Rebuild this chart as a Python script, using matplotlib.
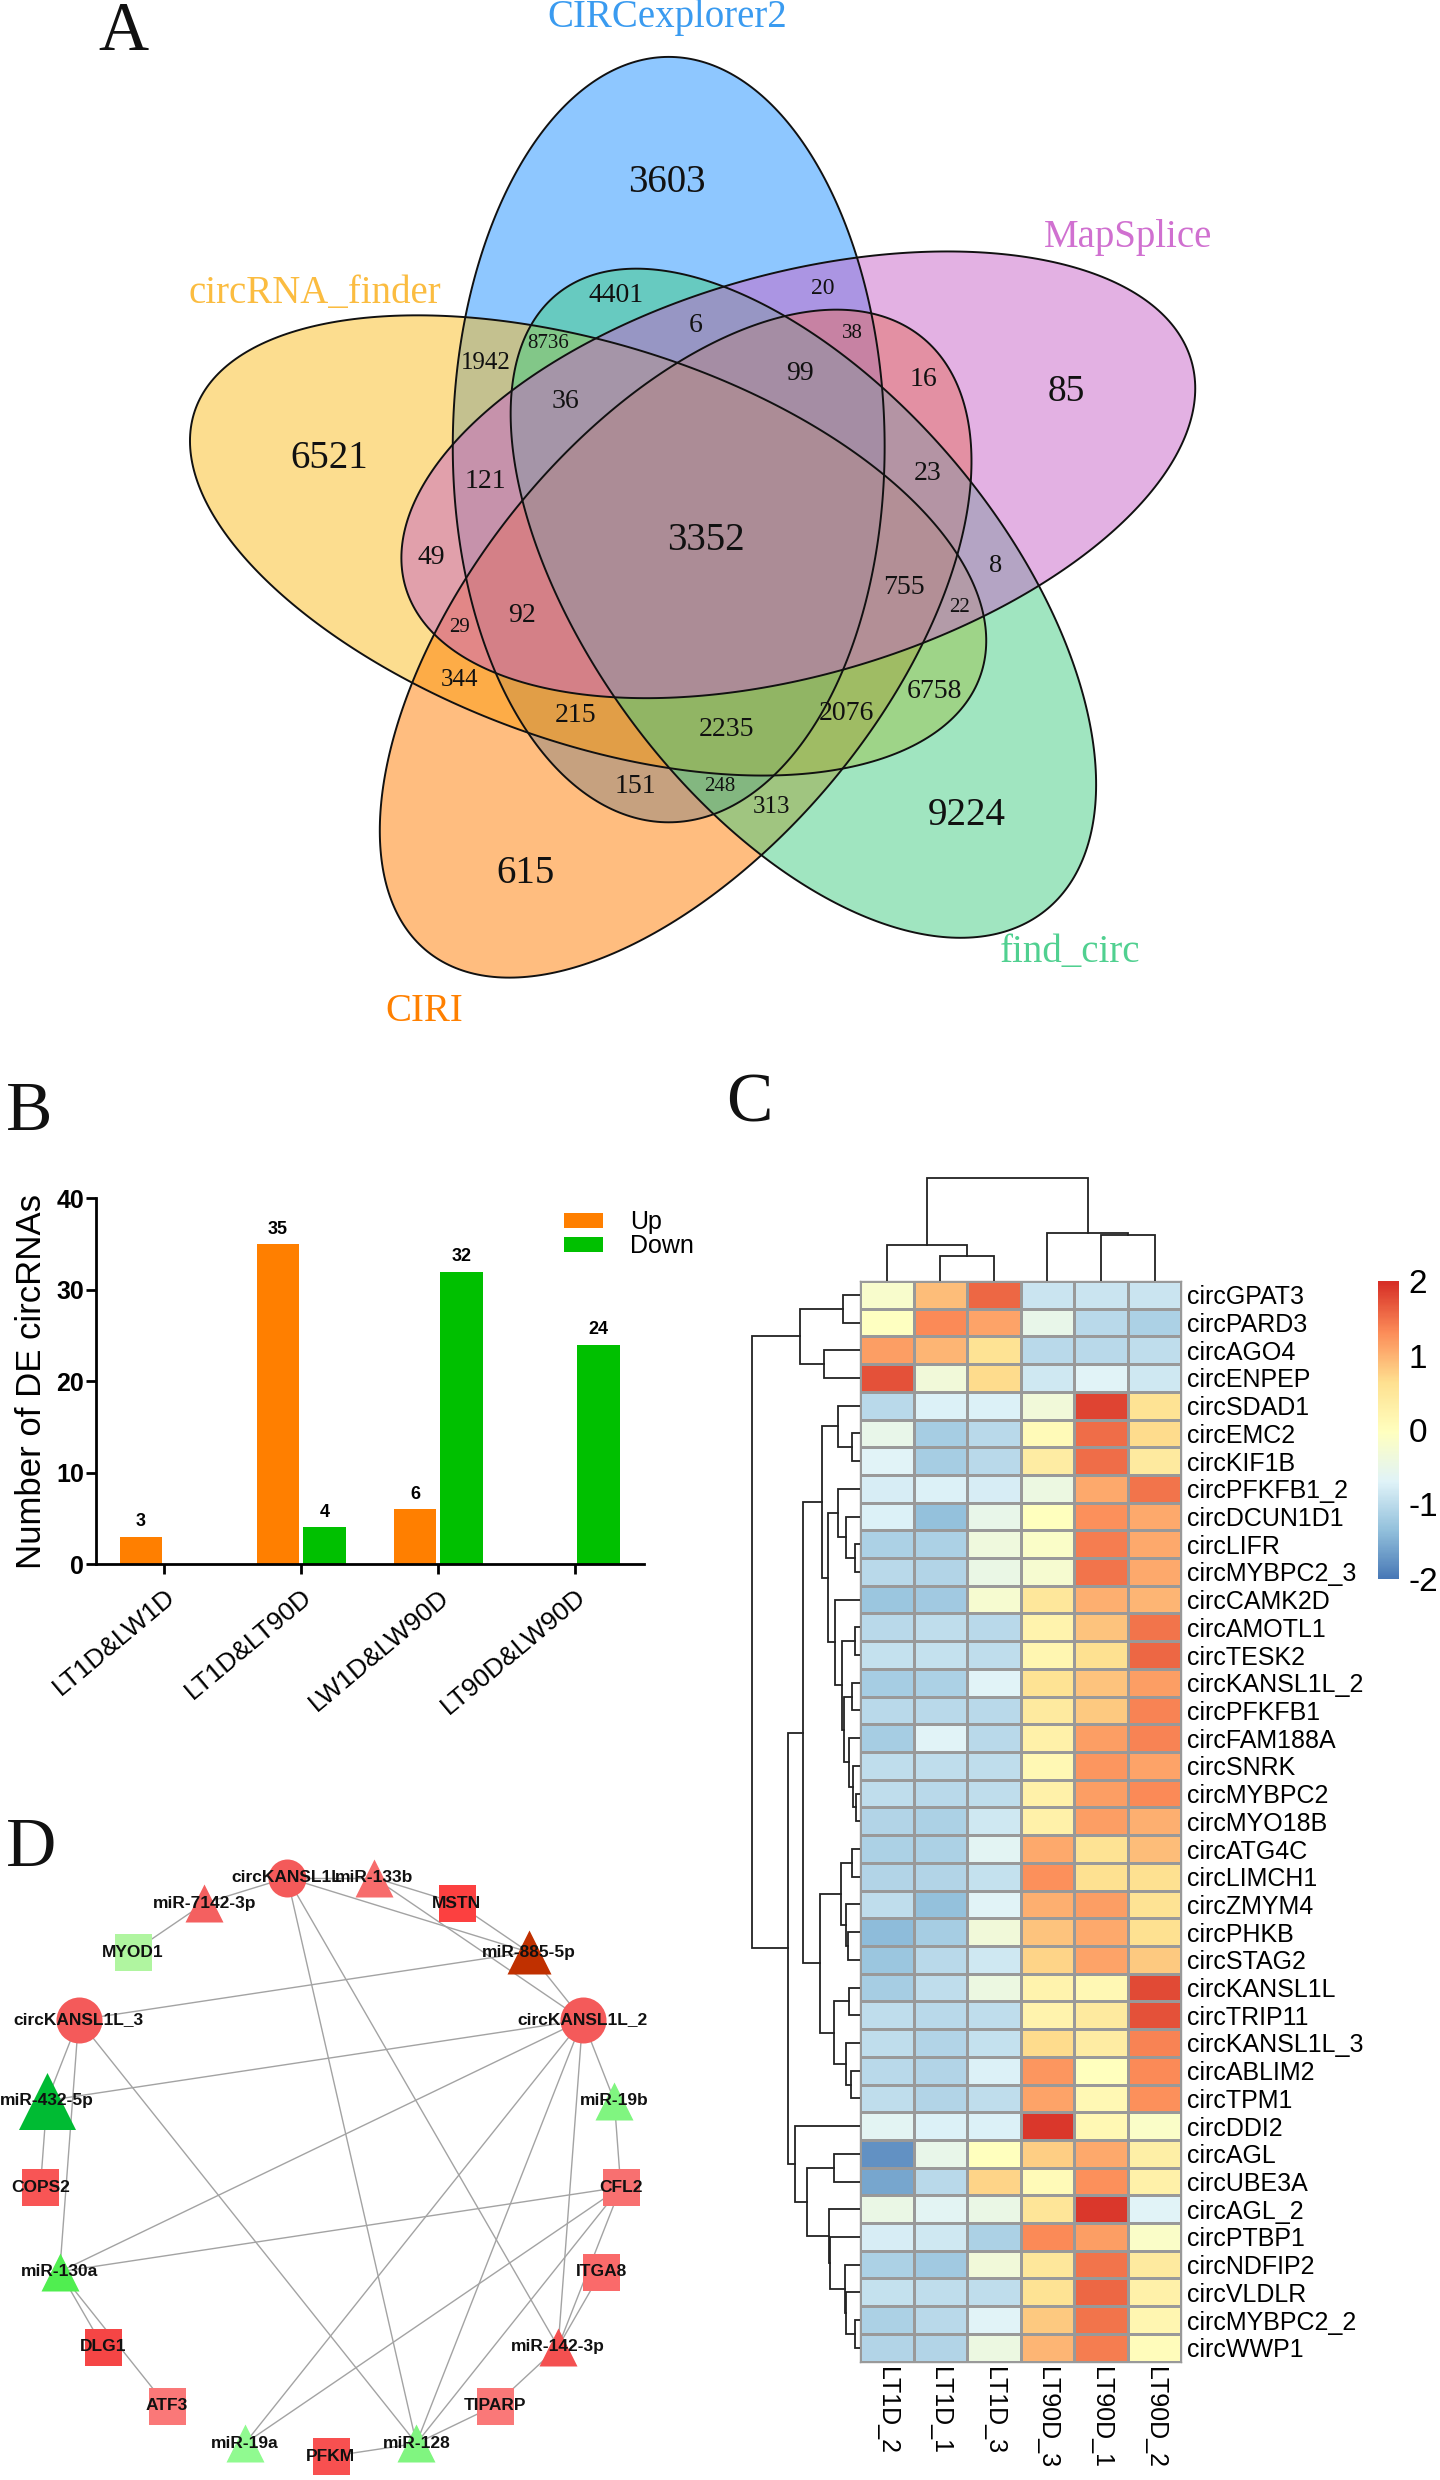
import numpy as np
import matplotlib
matplotlib.use("Agg")
import matplotlib.pyplot as plt
from matplotlib.colors import LinearSegmentedColormap
from matplotlib.patches import Polygon

plt.rcParams['font.family'] = ['Liberation Sans', 'DejaVu Sans']
plt.rcParams['axes.unicode_minus'] = False
SERIF = ['Liberation Serif', 'DejaVu Serif']

# ---------------- data ----------------
venn_counts = ['3603', '6521', '85', '3352', '9224', '615', '4401', '20', '6', '99', '36', '38', '16', '23',
               '1942', '8736', '121', '49', '92', '29', '344', '215', '755', '8', '22', '6758', '2076', '2235',
               '151', '248', '313']
venn_sets = ['CIRCexplorer2', 'circRNA_finder', 'CIRI', 'find_circ', 'MapSplice']

bar_groups = ['LT1D&LW1D', 'LT1D&LT90D', 'LW1D&LW90D', 'LT90D&LW90D']
bar_up = [3, 35, 6, 0]
bar_down = [0, 4, 32, 24]

heat_cols = ['LT1D_2', 'LT1D_1', 'LT1D_3', 'LT90D_3', 'LT90D_1', 'LT90D_2']
heat_rows = ['circGPAT3', 'circPARD3', 'circAGO4', 'circENPEP', 'circSDAD1', 'circEMC2', 'circKIF1B',
             'circPFKFB1_2', 'circDCUN1D1', 'circLIFR', 'circMYBPC2_3', 'circCAMK2D', 'circAMOTL1', 'circTESK2',
             'circKANSL1L_2', 'circPFKFB1', 'circFAM188A', 'circSNRK', 'circMYBPC2', 'circMYO18B', 'circATG4C',
             'circLIMCH1', 'circZMYM4', 'circPHKB', 'circSTAG2', 'circKANSL1L', 'circTRIP11', 'circKANSL1L_3',
             'circABLIM2', 'circTPM1', 'circDDI2', 'circAGL', 'circUBE3A', 'circAGL_2', 'circPTBP1', 'circNDFIP2',
             'circVLDLR', 'circMYBPC2_2', 'circWWP1']
heat_values = [
    [-0.15, 0.95, 1.6, -0.85, -0.85, -0.85],
    [-0.02, 1.35, 1.15, -0.5, -1.0, -1.1],
    [1.2, 1.0, 0.6, -1.0, -1.0, -0.95],
    [1.75, -0.3, 0.7, -0.8, -0.65, -0.8],
    [-1.0, -0.7, -0.7, -0.3, 1.85, 0.6],
    [-0.5, -1.15, -1.0, 0.1, 1.55, 0.7],
    [-0.65, -1.15, -1.0, 0.4, 1.55, 0.45],
    [-0.75, -0.7, -0.75, -0.4, 1.1, 1.5],
    [-0.7, -1.3, -0.5, 0.0, 1.3, 1.1],
    [-1.1, -1.1, -0.35, -0.1, 1.45, 1.1],
    [-1.0, -1.05, -0.45, -0.2, 1.5, 1.1],
    [-1.25, -1.2, -0.2, 0.5, 1.05, 1.0],
    [-1.0, -0.95, -1.0, 0.25, 0.9, 1.5],
    [-0.9, -0.9, -0.95, 0.2, 0.65, 1.6],
    [-1.15, -1.1, -0.65, 0.6, 0.9, 1.2],
    [-1.0, -1.0, -1.0, 0.45, 0.85, 1.4],
    [-1.15, -0.65, -1.0, 0.3, 1.2, 1.4],
    [-0.95, -0.95, -0.95, 0.15, 1.25, 1.15],
    [-0.95, -1.0, -0.95, 0.3, 1.2, 1.35],
    [-1.05, -1.1, -0.8, 0.3, 1.2, 1.05],
    [-1.1, -1.1, -0.6, 1.1, 0.6, 0.95],
    [-1.05, -1.05, -0.9, 1.3, 0.65, 0.65],
    [-0.95, -1.3, -0.65, 1.05, 1.2, 0.6],
    [-1.35, -1.15, -0.3, 0.9, 1.1, 0.65],
    [-1.25, -1.0, -0.8, 0.75, 1.15, 0.85],
    [-1.15, -0.95, -0.4, 0.25, 0.15, 1.8],
    [-0.95, -1.0, -0.95, 0.25, 0.45, 1.75],
    [-0.95, -1.05, -0.9, 0.7, 0.4, 1.4],
    [-1.0, -1.05, -0.7, 1.25, 0.0, 1.35],
    [-0.95, -1.05, -0.95, 1.15, 0.15, 1.3],
    [-0.6, -0.7, -0.7, 1.95, 0.15, -0.1],
    [-1.75, -0.5, 0.0, 0.8, 1.1, 0.35],
    [-1.55, -1.0, 0.75, 0.1, 1.3, 0.3],
    [-0.45, -0.6, -0.45, 0.55, 1.95, -0.65],
    [-0.75, -0.8, -1.1, 1.35, 1.2, -0.1],
    [-1.1, -1.2, -0.3, 0.5, 1.5, 0.45],
    [-0.9, -0.95, -0.95, 0.6, 1.6, 0.3],
    [-1.1, -1.0, -0.65, 0.85, 1.5, 0.2],
    [-1.05, -1.05, -0.4, 1.0, 1.45, 0.05],
]
# dendrograms: (merge height, left, right); ints are leaf positions
row_tree = (108,
            (60, (17, 0, 1), (36, 2, 3)),
            (72.5,
             (57.4,
              (38, (21.6, 4, (7.8, 5, 6)),
               (32, (21.6, 7, (13.8, 8, (4.6, 9, 10))),
                (25.3, 11, (18.4, (4.6, 12, 13),
                            (16, (7.8, 14, 15), (11.5, 16, (6.9, 17, (3.7, 18, 19)))))))),
              (40.4, (19.3, (7.8, 20, 21), (13.8, 22, (12.4, 23, 24))),
               (26.2, (11.5, 25, 26), (13.8, 27, (9.2, 28, 29))))),
             (65, 30, (52.8, (26.2, 31, 32),
                       (30.8, 33, (29.8, 34, (14.7, 35, (13.8, 36, (4.6, 37, 38)))))))))
col_tree = (103, (36, 0, (24.8, 1, 2)), (47.6, 3, (45.9, 4, 5)))

net_nodes = ['PFKM', 'miR-128', 'TIPARP', 'miR-142-3p', 'ITGA8', 'CFL2', 'miR-19b', 'circKANSL1L_2', 'miR-885-5p',
             'MSTN', 'miR-133b', 'circKANSL1L', 'miR-7142-3p', 'MYOD1', 'circKANSL1L_3', 'miR-432-5p', 'COPS2',
             'miR-130a', 'DLG1', 'ATF3', 'miR-19a']
net_colors = ['#F85050', '#80F580', '#FA7878', '#F45050', '#FA6A6A', '#F87070', '#80F580', '#F45A5A', '#C03000',
              '#FC4040', '#F76C6C', '#F45A5A', '#F46060', '#B0F5A0', '#F45A5A', '#00BB33', '#F85555',
              '#50EE50', '#F54545', '#FA7878', '#90FA90']
net_edges = [('MYOD1', 'miR-7142-3p'), ('miR-7142-3p', 'circKANSL1L'), ('circKANSL1L', 'miR-885-5p'),
             ('circKANSL1L', 'miR-128'), ('circKANSL1L', 'miR-142-3p'), ('circKANSL1L', 'miR-133b'),
             ('miR-133b', 'MSTN'), ('miR-133b', 'circKANSL1L_2'), ('MSTN', 'miR-885-5p'),
             ('miR-885-5p', 'circKANSL1L_2'), ('miR-885-5p', 'circKANSL1L_3'), ('circKANSL1L_2', 'miR-432-5p'),
             ('circKANSL1L_2', 'miR-130a'), ('circKANSL1L_2', 'miR-19a'), ('circKANSL1L_2', 'miR-128'),
             ('circKANSL1L_2', 'miR-142-3p'), ('circKANSL1L_2', 'miR-19b'), ('miR-19b', 'CFL2'),
             ('CFL2', 'miR-130a'), ('CFL2', 'miR-19a'), ('CFL2', 'miR-128'), ('CFL2', 'miR-142-3p'),
             ('ITGA8', 'miR-142-3p'), ('miR-142-3p', 'TIPARP'), ('TIPARP', 'miR-128'), ('miR-128', 'PFKM'),
             ('miR-128', 'circKANSL1L_3'), ('circKANSL1L_3', 'miR-432-5p'), ('circKANSL1L_3', 'miR-130a'),
             ('miR-432-5p', 'COPS2'), ('miR-130a', 'DLG1'), ('miR-130a', 'ATF3')]

# ---------------- layout helpers ----------------
W, H = 1440, 2480
fig = plt.figure(figsize=(W/100, H/100), dpi=100, facecolor='white')
def box(x0, y0, x1, y1):
    return fig.add_axes([x0/W, 1-y1/H, (x1-x0)/W, (y1-y0)/H])
def letter(s, x, y):
    fig.text(x/W, 1-y/H, s, fontsize=50, family=SERIF, ha='left', va='baseline', color='#111111')

letter('A', 98, 50)
letter('B', 6, 1130)
letter('C', 726, 1122)
letter('D', 6, 1866)

# ---------------- A: five-set Venn ----------------
def egg(cx, cy, a, b, th, e, n=360):
    t = np.linspace(0, 2*np.pi, n, endpoint=False)
    u = a*np.cos(t); v = b*np.sin(t)*(1+e*np.cos(t))
    c, s = np.cos(np.radians(th)), np.sin(np.radians(th))
    return np.c_[cx+c*u-s*v, cy+s*u+c*v]

petals = {'CIRCexplorer2': ((668.7, 439.6, 382.7, 215.9, 90.0, 0.018), '#1E90FF', '#3A9BF0', 667, 17),
          'circRNA_finder': ((587.8, 542.7, 414.5, 199.1, -161.5, -0.031), '#FBBC20', '#FBBC40', 315, 294),
          'CIRI': ((674.6, 644.3, 394.3, 208.8, 128.8, -0.014), '#FF7D00', '#FF8000', 424, 1011),
          'find_circ': ((801.5, 602.1, 393.2, 207.4, 51.8, 0.025), '#42CD82', '#50D090', 1070, 952),
          'MapSplice': ((798.4, 473.8, 408.9, 200.6, 164.0, 0.012), '#C864C8', '#D070D0', 1128, 237)}
ax = box(0, 0, 1440, 1060); ax.set_xlim(0, 1440); ax.set_ylim(1060, 0); ax.axis('off')
for name in venn_sets:
    g, fc, tc, tx, ty = petals[name]
    ax.add_patch(Polygon(egg(*g), closed=True, fc=fc, alpha=.5, ec='none'))
for name in venn_sets:
    g, fc, tc, tx, ty = petals[name]
    ax.add_patch(Polygon(egg(*g), closed=True, fc='none', ec='#111111', lw=1.4))
    ax.text(tx, ty, name, family=SERIF, fontsize=28, color=tc, ha='center', va='center')

venn_pos = [(667, 182, 28), (329, 459, 28), (1066, 392, 27), (706, 541, 28), (967, 815, 28), (526, 873, 28),
            (616, 296, 20), (823, 288, 17), (696, 325, 20), (800, 374, 20), (565, 402, 20), (852, 334, 15),
            (923, 380, 20), (928, 473, 20), (486, 363, 18), (548, 344, 15), (485, 481, 20), (431, 558, 20),
            (522, 616, 20), (460, 628, 15), (460, 680, 18), (576, 716, 20), (904, 587, 20), (996, 566, 19),
            (960, 608, 15), (934, 691, 20), (846, 714, 20), (726, 730, 20), (635, 786, 20), (720, 786, 15),
            (771, 807, 18)]
for s, (x, y, fs) in zip(venn_counts, venn_pos):
    ax.text(x, y, s, family=SERIF, fontsize=fs, ha='center', va='center', color='#111111')

# ---------------- B: bars ----------------
ax = box(96.4, 1198.4, 644, 1564)
xs = np.arange(len(bar_groups))
bw = 0.312
bu = ax.bar(xs-0.167, bar_up, bw, color='#FF7F00', label='Up')
bd = ax.bar(xs+0.174, bar_down, bw, color='#00C000', label='Down')
for bars, vals in ((bu, bar_up), (bd, bar_down)):
    for r, v in zip(bars, vals):
        if v > 0:
            ax.text(r.get_x()+r.get_width()/2, v+0.7, str(v), ha='center', va='bottom', fontsize=13, fontweight='bold')
ax.set_xlim(-0.493, 3.504); ax.set_ylim(0, 40)
ax.set_xticks(xs); ax.set_xticklabels(bar_groups, rotation=40, ha='right', rotation_mode='anchor', fontsize=19)
ax.set_yticks([0, 10, 20, 30, 40])
ax.tick_params(axis='y', width=2, length=7, labelsize=18, pad=2)
ax.tick_params(axis='x', width=2, length=7, pad=8)
for lab in ax.get_yticklabels():
    lab.set_fontweight('bold')
for s in ('top', 'right'):
    ax.spines[s].set_visible(False)
for s in ('left', 'bottom'):
    ax.spines[s].set_linewidth(2)
ax.set_ylabel('Number of DE circRNAs', fontsize=25, labelpad=6)
ax.legend(loc='upper left', bbox_to_anchor=(0.84, 0.988), frameon=False, fontsize=18, handlelength=1.56,
          handleheight=0.56, labelspacing=0.0, handletextpad=1.1, borderaxespad=0, borderpad=0.3)

# ---------------- C: heatmap ----------------
cmap = LinearSegmentedColormap.from_list('rdylbu', ['#4575B4', '#91BFDB', '#E0F3F8', '#FFFFBF', '#FEE090', '#FC8D59', '#D73027'])
ax = box(860, 1281, 1181.4, 2361.6)
Z = np.array(heat_values)
mesh = ax.pcolormesh(np.arange(len(heat_cols)+1), np.arange(len(heat_rows)+1), Z, cmap=cmap, vmin=-2, vmax=2,
                     edgecolors='#999999', linewidth=1.0)
ax.set_ylim(len(heat_rows), 0); ax.set_xlim(0, len(heat_cols))
ax.set_yticks(np.arange(len(heat_rows))+.5); ax.set_yticklabels(heat_rows, fontsize=18)
ax.yaxis.tick_right()
ax.set_xticks(np.arange(len(heat_cols))+.5); ax.set_xticklabels(heat_cols, rotation=-90, fontsize=18)
ax.tick_params(length=0, pad=4)
for s in ax.spines.values():
    s.set_color('#999999'); s.set_linewidth(1)

def tree(a, node, horiz):
    if isinstance(node, int):
        return node+.5, 0
    h, l, r = node
    p1, h1 = tree(a, l, horiz); p2, h2 = tree(a, r, horiz)
    hs, ps = [h1, h, h, h2], [p1, p1, p2, p2]
    a.plot(*( (hs, ps) if horiz else (ps, hs) ), color='#222222', lw=1.3, solid_joinstyle='miter')
    return (p1+p2)/2, h

ax = box(745, 1281, 860, 2361.6); ax.set_xlim(115, 0); ax.set_ylim(len(heat_rows), 0); ax.axis('off')
tree(ax, row_tree, True)
ax = box(860, 1170, 1181.4, 1281); ax.set_xlim(0, len(heat_cols)); ax.set_ylim(0, 111); ax.axis('off')
tree(ax, col_tree, False)

cax = box(1378, 1281, 1398.6, 1579)
cb = fig.colorbar(mesh, cax=cax, ticks=[-2, -1, 0, 1, 2])
cb.outline.set_visible(False)
cb.solids.set_edgecolor('face')
cax.tick_params(length=0, labelsize=24, pad=7)

# ---------------- D: network ----------------
ax = box(0, 1780, 720, 2480); ax.set_xlim(0, 720); ax.set_ylim(700, 0); ax.axis('off')
cx, cy, R = 330.6, 385.4, 291
ang = np.radians(-90+np.arange(len(net_nodes))*360/len(net_nodes))
pos = {n: (cx+R*np.cos(t), cy-R*np.sin(t)) for n, t in zip(net_nodes, ang)}
for a, b in net_edges:
    ax.plot([pos[a][0], pos[b][0]], [pos[a][1], pos[b][1]], color='#A3A3A3', lw=1.0, zorder=1)
def node_style(n):
    if n in ('circKANSL1L_2', 'circKANSL1L_3'):
        return 'o', 46
    if n == 'circKANSL1L':
        return 'o', 38
    if n == 'miR-432-5p':
        return '^', 57
    if n == 'miR-885-5p':
        return '^', 44
    return ('^', 38) if n.startswith('miR') else ('s', 37)
for n, c in zip(net_nodes, net_colors):
    m, px = node_style(n)
    ax.scatter(*pos[n], marker=m, s=(px*0.72)**2, color=c, linewidths=0, zorder=2)
    ax.text(*pos[n], n, fontsize=12.5, fontweight='bold', ha='center', va='center', color='#111111', zorder=3)

fig.savefig('out.png', dpi=100, facecolor='white')
